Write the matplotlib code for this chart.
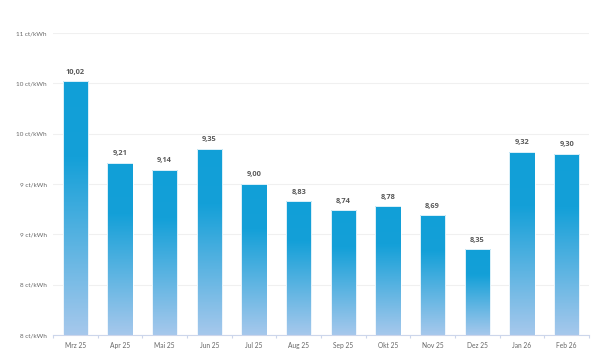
import numpy as np
import matplotlib
matplotlib.use("Agg")
import matplotlib.pyplot as plt
from matplotlib.colors import LinearSegmentedColormap

categories = ["Mrz 25", "Apr 25", "Mai 25", "Jun 25", "Jul 25", "Aug 25",
              "Sep 25", "Okt 25", "Nov 25", "Dez 25", "Jan 26", "Feb 26"]
values = [10.02, 9.21, 9.14, 9.35, 9.00, 8.83, 8.74, 8.78, 8.69, 8.35, 9.32, 9.30]
value_labels = ["10,02", "9,21", "9,14", "9,35", "9,00", "8,83", "8,74", "8,78",
                "8,69", "8,35", "9,32", "9,30"]
y_ticks = [7.5, 8.0, 8.5, 9.0, 9.5, 10.0, 10.5]
y_tick_labels = ["8 ct/kWh", "8 ct/kWh", "9 ct/kWh", "9 ct/kWh",
                 "10 ct/kWh", "10 ct/kWh", "11 ct/kWh"]

plt.rcParams['font.family'] = ['Lato', 'DejaVu Sans']

fig = plt.figure(figsize=(6.1, 3.55), dpi=100)
ax = fig.add_axes([53/610, 1 - 335/355, 536/610, (335 - 33)/355])

ymin, ymax = 7.5, 10.5
ax.set_xlim(-0.5, len(categories) - 0.5)
ax.set_ylim(ymin, ymax)

cmap = LinearSegmentedColormap.from_list(
    "g", [(0.0, "#119fd7"), (0.3, "#14a0d8"), (1.0, "#a6c8ec")])
grad = np.linspace(0, 1, 256).reshape(-1, 1)

width = 0.56
x = np.arange(len(categories))
bars = ax.bar(x, [v - ymin for v in values], bottom=ymin, width=width,
              facecolor="none", edgecolor="#ffffff", linewidth=0.6, zorder=3)
for b in bars:
    x0, w = b.get_x(), b.get_width()
    y0, h = b.get_y(), b.get_height()
    im = ax.imshow(grad, cmap=cmap, aspect="auto",
                   extent=[x0, x0 + w, y0, y0 + h], origin="upper", zorder=2)
    im.set_clip_path(b)

for xi, v, lab in zip(x, values, value_labels):
    ax.annotate(lab, (xi, v), xytext=(0, 4), textcoords="offset points",
                ha="center", va="bottom", fontsize=5.3, fontweight="bold",
                family=["Open Sans", "DejaVu Sans"],
                color="#595959", zorder=4)

ax.set_yticks(y_ticks)
ax.set_yticklabels(y_tick_labels)
ax.set_xticks(x)
ax.set_xticklabels(categories)
ax.set_xticks(np.arange(-0.5, len(categories), 1), minor=True)

ax.grid(axis="y", color="#f0f0f0", linewidth=0.8, zorder=0)
ax.set_axisbelow(True)
for s in ["top", "right", "left"]:
    ax.spines[s].set_visible(False)
ax.spines["bottom"].set_color("#ccd6eb")
ax.spines["bottom"].set_linewidth(0.8)

ax.tick_params(axis="y", length=0, labelsize=4.6, labelcolor="#666666", pad=4.5)
ax.tick_params(axis="x", which="major", length=0, labelsize=4.8,
               labelcolor="#666666", pad=5)
ax.tick_params(axis="x", which="minor", length=2.5, color="#ccd6eb", width=0.8)

fig.savefig("out.png", dpi=100)
